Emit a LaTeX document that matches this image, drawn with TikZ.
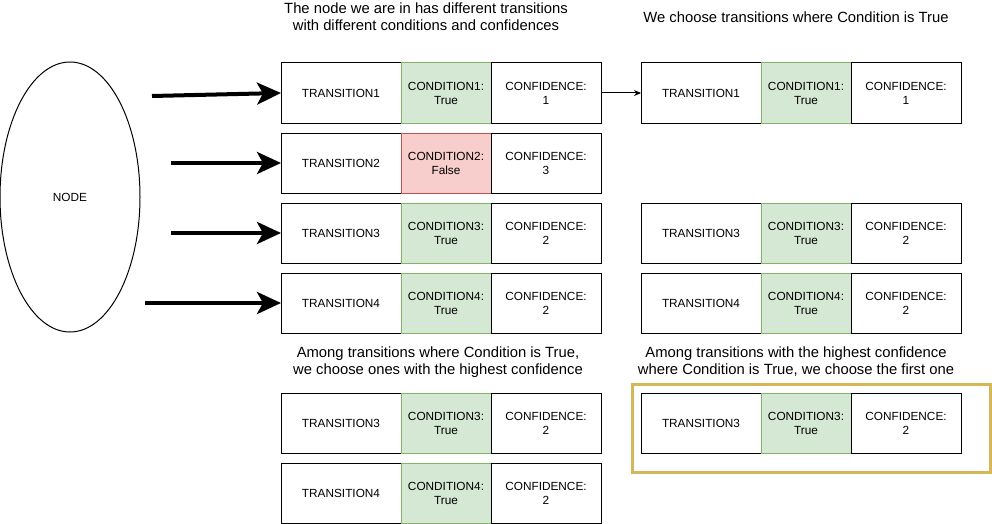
\documentclass[tikz,border=0pt]{standalone}
\usepackage{fontspec}
\setmainfont{Liberation Sans}
\usetikzlibrary{shapes.geometric,arrows.meta}
\definecolor{gfill}{HTML}{D5E8D4}
\definecolor{gline}{HTML}{82B366}
\definecolor{rfill}{HTML}{F8CECC}
\definecolor{rline}{HTML}{B85450}
\definecolor{gold}{HTML}{D6B656}
\newcommand\boxfont{\fontsize{11.8pt}{14pt}\selectfont}
\newcommand\titlefont{\fontsize{14.8pt}{17pt}\selectfont}
\tikzset{
  cell/.style={draw, line width=1pt, minimum height=60pt, inner sep=0pt, outer sep=0pt, align=center, font=\boxfont, anchor=north west, fill=white},
  condtrue/.style={fill=gfill, draw=gline},
  condfalse/.style={fill=rfill, draw=rline},
  bigarrow/.style={line width=4pt, -{Stealth[length=24pt,width=22pt,inset=6pt]}},
  thinarrow/.style={line width=1pt, -{Stealth[length=7pt,width=6pt]}},
  title/.style={align=center, font=\titlefont, inner sep=0pt},
}
\newcommand\trow[7]{%
  \node[cell, minimum width=120pt] (#1t) at (#2,#3) {TRANSITION#4};
  \node[cell, #7, minimum width=90pt] (#1c) at (#1t.north east) {CONDITION#4:\\#5};
  \node[cell, minimum width=110pt] (#1f) at (#1c.north east) {CONFIDENCE:\\#6};
}
\begin{document}
\begin{tikzpicture}[x=1pt,y=-1pt]
\useasboundingbox (0,0) rectangle (992,524);
\node[ellipse, draw, line width=1pt, minimum width=140pt, minimum height=270pt, inner sep=0pt, outer sep=0pt, font=\boxfont] (node) at (70,197) {NODE};

% titles
\node[title] (t1) at (426,17) {The node we are in has different transitions\\with different conditions and confidences};
\node[title] (t2) at (796,17) {We choose transitions where Condition is True};
\node[title] (t3) at (438,362) {Among transitions where Condition is True,\\we choose ones with the highest confidence};
\node[title] (t4) at (796,362) {Among transitions with the highest confidence\\where Condition is True, we choose the first one};

% left column
\trow{a1}{281}{63}{1}{True}{1}{condtrue}
\trow{a2}{281}{133}{2}{False}{3}{condfalse}
\trow{a3}{281}{203}{3}{True}{2}{condtrue}
\trow{a4}{281}{273}{4}{True}{2}{condtrue}

% right column
\trow{b1}{641}{63}{1}{True}{1}{condtrue}
\trow{b3}{641}{203}{3}{True}{2}{condtrue}
\trow{b4}{641}{273}{4}{True}{2}{condtrue}

% bottom left
\trow{c3}{281}{393}{3}{True}{2}{condtrue}
\trow{c4}{281}{463}{4}{True}{2}{condtrue}

% bottom right with gold frame
\node[draw=gold, line width=3pt, minimum width=358pt, minimum height=88pt, inner sep=0pt, outer sep=0pt, anchor=north west] (frame) at (632,384) {};
\trow{d3}{641}{393}{3}{True}{2}{condtrue}

% arrows
\coordinate (s1) at (152,96);
\coordinate (s2) at (171,163);
\coordinate (s3) at (171,233);
\coordinate (s4) at (145,303);
\draw[bigarrow] (s1) -- (a1t.west);
\draw[bigarrow] (s2) -- (a2t.west);
\draw[bigarrow] (s3) -- (a3t.west);
\draw[bigarrow] (s4) -- (a4t.west);
\draw[thinarrow] (a1f.east) -- (b1t.west);
\end{tikzpicture}
\end{document}
